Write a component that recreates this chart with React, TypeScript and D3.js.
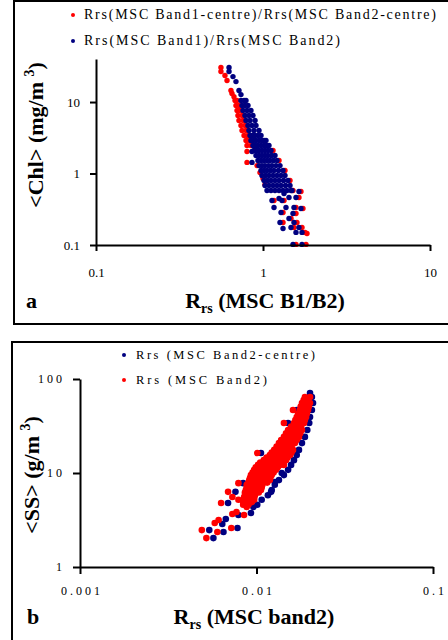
import React, { useEffect, useRef } from 'react';
import * as d3 from 'd3';

const svgWidth = 448;
const svgHeight = 640;
const serif = '"Liberation Serif", "Times New Roman", serif';
const red = '#ff0000';
const navy = '#000080';

// panel a: reflectance ratio vs <Chl>
const ratioTicks = [0.1, 1, 10];
const chlTicks = [0.1, 1, 10];
const ratioLegend = ['Rrs(MSC Band1-centre)/Rrs(MSC Band2-centre)', 'Rrs(MSC Band1)/Rrs(MSC Band2)'];

// red: Band1-centre / Band2-centre  [ratio, chl]
const ratioCentre: [number, number][] = [
  [0.56, 30.4], [0.56, 26.7], [0.592, 23.5], [0.609, 20.0], [0.643, 14.5], [0.652, 13.2],
  [0.67, 11.9], [0.68, 10.5], [0.699, 10.5], [0.689, 8.93], [0.718, 8.93], [0.699, 7.6], [0.728, 7.6],
  [0.708, 6.47], [0.749, 6.47], [0.718, 5.51], [0.759, 5.51], [0.738, 4.69], [0.78, 4.69],
  [0.749, 3.99], [0.791, 3.99], [0.77, 3.4], [0.813, 3.4], [0.791, 2.89], [0.824, 2.89],
  [0.802, 2.46], [0.847, 2.46], [0.813, 3.09], [0.802, 2.03], [0.802, 1.43],
  [1.148, 2.1], [1.247, 1.52], [1.354, 1.1], [1.451, 0.798], [1.512, 0.578],
  [0.921, 1.29], [0.959, 1.03], [1.0, 0.85], [1.028, 0.7],
  [1.164, 0.42], [1.336, 0.42], [1.318, 0.285], [1.576, 0.276], [1.735, 0.324], [1.576, 0.335],
  [1.318, 0.206], [1.471, 0.235], [1.597, 0.206], [1.533, 0.176], [1.712, 0.176], [1.784, 0.15],
  [1.834, 0.145], [1.809, 0.102], [1.576, 0.102], [1.688, 0.56], [1.642, 0.462],
];

// blue: Band1 / Band2  [ratio, chl]
const ratioFull: [number, number][] = [
  [0.626, 30.4], [0.626, 26.7], [0.661, 22.7], [0.689, 19.3], [0.718, 14.5], [0.738, 12.7],
  [0.738, 10.5], [0.77, 10.5], [0.791, 10.5],
  [0.749, 8.93], [0.78, 8.93], [0.813, 8.93],
  [0.759, 7.6], [0.802, 7.6], [0.847, 7.6],
  [0.78, 6.47], [0.824, 6.47], [0.871, 6.47],
  [0.791, 5.51], [0.836, 5.51], [0.896, 5.51],
  [0.813, 4.69], [0.859, 4.69], [0.908, 4.69],
  [0.824, 3.99], [0.883, 3.99], [0.946, 3.99],
  [0.836, 3.4], [0.866, 3.4], [0.896, 3.4], [0.935, 3.4], [0.973, 3.4],
  [0.847, 2.89], [0.877, 2.89], [0.908, 2.89], [0.947, 2.89], [0.986, 2.89], [1.014, 2.89], [1.042, 2.89],
  [0.871, 2.46], [0.9, 2.46], [0.933, 2.46], [0.973, 2.46], [1.014, 2.46], [1.05, 2.46], [1.086, 2.46],
  [0.883, 2.1], [0.914, 2.1], [0.946, 2.1], [0.986, 2.1], [1.028, 2.1], [1.071, 2.1], [1.117, 2.1],
  [0.908, 1.79], [0.946, 1.79], [0.986, 1.79], [1.028, 1.79], [1.071, 1.79], [1.124, 1.79], [1.18, 1.79],
  [0.933, 1.52], [0.973, 1.52], [1.014, 1.52], [1.057, 1.52], [1.101, 1.52], [1.156, 1.52], [1.213, 1.52],
  [0.946, 1.29], [0.986, 1.29], [1.028, 1.29], [1.079, 1.29], [1.132, 1.29], [1.196, 1.29], [1.264, 1.29],
  [0.973, 1.1], [1.014, 1.1], [1.057, 1.1], [1.109, 1.1], [1.164, 1.1], [1.238, 1.1], [1.318, 1.1],
  [0.986, 0.938], [1.035, 0.938], [1.086, 0.938], [1.148, 0.938], [1.213, 0.938], [1.282, 0.938], [1.354, 0.938],
  [1.014, 0.798], [1.064, 0.798], [1.117, 0.798], [1.18, 0.798], [1.247, 0.798], [1.327, 0.798], [1.411, 0.798],
  [1.028, 0.68], [1.086, 0.68], [1.148, 0.68], [1.213, 0.68], [1.282, 0.68], [1.364, 0.68], [1.451, 0.68],
  [1.057, 0.578], [1.117, 0.578], [1.18, 0.578], [1.247, 0.578], [1.318, 0.578], [1.392, 0.578], [1.471, 0.578],
  [0.859, 1.43], [0.859, 2.03],
  [1.132, 0.42], [1.3, 0.42], [1.164, 0.335], [1.282, 0.285], [1.373, 0.335], [1.533, 0.335],
  [1.688, 0.324], [1.512, 0.276], [1.264, 0.206], [1.431, 0.235], [1.533, 0.206], [1.471, 0.176],
  [1.318, 0.17], [1.642, 0.176], [1.712, 0.15], [1.576, 0.15], [1.512, 0.102], [1.712, 0.102],
  [1.491, 0.578], [1.642, 0.56], [1.576, 0.462], [1.431, 0.462], [1.336, 0.525], [1.247, 0.447],
];

// panel b: Rrs band2 vs <SS>
const rrsTicks = [0.001, 0.01, 0.1];
const ssTicks = [1, 10, 100];
const rrsLegend = ['Rrs (MSC Band2-centre)', 'Rrs (MSC Band2)'];

// blue: Band2-centre  [rrs, ss]
const band2Centre: [number, number][] = [
  [0.0201, 71], [0.0206, 64.4], [0.0209, 55.6], [0.0206, 46.8], [0.0201, 39.4], [0.0199, 34.0],
  [0.0194, 28.7], [0.0188, 24.2], [0.0181, 20.8], [0.0174, 17.6], [0.0169, 15.5], [0.0163, 13.7],
  [0.0157, 12.2], [0.0151, 10.8], [0.0143, 9.5], [0.0134, 8.4], [0.0127, 7.5], [0.0122, 6.6],
  [0.0116, 5.8], [0.0107, 5.2], [0.0101, 4.6],
  [0.0169, 46.8], [0.0151, 34.0], [0.0106, 16.3], [0.0084, 7.8], [0.0076, 6.3], [0.0069, 4.8],
  [0.0067, 3.24], [0.0064, 2.87], [0.0054, 2.47], [0.0065, 2.36], [0.0057, 2.03], [0.0078, 2.6],
  [0.0093, 3.75], [0.0079, 3.57], [0.0096, 4.35], [0.0086, 4.8], [0.0121, 6.3], [0.0127, 8.0],
  [0.0139, 10.0],
];

// red: Band2  [rrs, ss]
const band2: [number, number][] = [
  [0.0188, 64.4], [0.0201, 64.4],
  [0.0185, 59.8], [0.0196, 59.8],
  [0.0181, 55.6], [0.0191, 55.6], [0.0201, 55.6],
  [0.0178, 51], [0.0188, 51], [0.0198, 51],
  [0.0176, 46.8], [0.0186, 46.8], [0.0196, 46.8],
  [0.0172, 42.9], [0.0183, 42.9], [0.0193, 42.9],
  [0.0169, 39.4], [0.0181, 39.4], [0.0191, 39.4],
  [0.0166, 36.6], [0.0177, 36.6], [0.0188, 36.6],
  [0.0163, 34.0], [0.0174, 34.0], [0.0186, 34.0],
  [0.0157, 31.2], [0.0168, 31.2], [0.0179, 31.2],
  [0.0151, 28.7], [0.0161, 28.7], [0.0172, 28.7], [0.0181, 28.7],
  [0.0147, 26.4], [0.0157, 26.4], [0.0167, 26.4], [0.0177, 26.4],
  [0.0143, 24.2], [0.0153, 24.2], [0.0163, 24.2], [0.0174, 24.2],
  [0.0138, 22.4], [0.0148, 22.4], [0.0158, 22.4], [0.0169, 22.4],
  [0.0134, 20.8], [0.0143, 20.8], [0.0153, 20.8], [0.0165, 20.8],
  [0.013, 19.1], [0.0138, 19.1], [0.0148, 19.1], [0.0158, 19.1],
  [0.0126, 17.6], [0.0134, 17.6], [0.0143, 17.6], [0.0153, 17.6], [0.0161, 17.6],
  [0.0122, 16.5], [0.013, 16.5], [0.014, 16.5], [0.015, 16.5], [0.0158, 16.5],
  [0.0119, 15.5], [0.0127, 15.5], [0.0136, 15.5], [0.0145, 15.5], [0.0155, 15.5],
  [0.0114, 14.6], [0.0122, 14.6], [0.0131, 14.6], [0.014, 14.6], [0.015, 14.6],
  [0.011, 13.7], [0.0117, 13.7], [0.0126, 13.7], [0.0134, 13.7], [0.0147, 13.7],
  [0.0105, 12.9], [0.0112, 12.9], [0.0121, 12.9], [0.013, 12.9], [0.014, 12.9],
  [0.0102, 12.2], [0.0108, 12.2], [0.0116, 12.2], [0.0126, 12.2], [0.0136, 12.2], [0.0143, 12.2],
  [0.0099, 11.5], [0.0105, 11.5], [0.0113, 11.5], [0.0122, 11.5], [0.0132, 11.5],
  [0.0097, 10.8], [0.0103, 10.8], [0.011, 10.8], [0.0119, 10.8], [0.0129, 10.8],
  [0.0095, 10.1], [0.0101, 10.1], [0.0108, 10.1], [0.0116, 10.1], [0.0125, 10.1],
  [0.0093, 9.5], [0.0099, 9.5], [0.0106, 9.5], [0.0113, 9.5], [0.0122, 9.5],
  [0.0092, 8.9], [0.0098, 8.9], [0.0104, 8.9], [0.0112, 8.9], [0.012, 8.9],
  [0.0091, 8.4], [0.0097, 8.4], [0.0103, 8.4], [0.0111, 8.4], [0.0119, 8.4],
  [0.009, 7.9], [0.0095, 7.9], [0.0102, 7.9], [0.0109, 7.9], [0.0115, 7.9],
  [0.0088, 7.5], [0.0094, 7.5], [0.0101, 7.5], [0.0108, 7.5],
  [0.0088, 7.0], [0.0093, 7.0], [0.01, 7.0], [0.0107, 7.0],
  [0.0087, 6.6], [0.0093, 6.6], [0.0099, 6.6], [0.0106, 6.6],
  [0.0086, 6.2], [0.0092, 6.2], [0.0098, 6.2], [0.0103, 6.2],
  [0.0086, 5.8], [0.0092, 5.8], [0.0098, 5.8],
  [0.0085, 5.5], [0.0091, 5.5], [0.0097, 5.5],
  [0.0085, 5.2], [0.0091, 5.2], [0.0097, 5.2],
  [0.0084, 4.9], [0.0089, 4.9], [0.0094, 4.9],
  [0.0084, 4.6], [0.009, 4.6],
  [0.0161, 46.8], [0.0143, 34.0], [0.0101, 16.3], [0.0079, 7.8], [0.0069, 6.3], [0.0063, 4.8],
  [0.0073, 3.66], [0.0061, 3.16], [0.0058, 2.94], [0.0049, 2.47], [0.006, 2.36], [0.0052, 2.03],
  [0.0072, 2.6], [0.0077, 3.85], [0.0085, 3.57], [0.0088, 4.35], [0.0073, 5.55], [0.0079, 5.2],
];

const fmt = (d: d3.NumberValue) => String(+d);

function drawAxes(g, x, y, xTicks, yTicks, o) {
  const [x0] = x.range();
  const [y0] = y.range();

  const xa = g.append('g')
    .attr('transform', `translate(0,${y0})`)
    .call(d3.axisBottom(x).tickValues(xTicks).tickFormat(fmt).tickSize(o.tick).tickSizeOuter(0));
  xa.attr('font-family', serif).attr('font-size', o.font);
  xa.selectAll('text').attr('y', o.xLabelY).attr('dy', null)
    .style('letter-spacing', o.spacing + 'px').attr('dx', o.spacing / 2);

  const ya = g.append('g')
    .attr('transform', `translate(${x0},0)`)
    .call(d3.axisLeft(y).tickValues(yTicks).tickFormat(fmt).tickSize(o.tick).tickSizeOuter(0));
  ya.attr('font-family', serif).attr('font-size', o.font);
  ya.selectAll('text').attr('x', -o.yLabelGap).attr('dy', '0.32em')
    .style('letter-spacing', o.spacing + 'px').attr('dx', o.spacing);

  g.selectAll('.domain').attr('stroke-width', 2);
  g.selectAll('.tick line').attr('stroke-width', 2);
}

function drawTitles(g, o) {
  const xt = g.append('text')
    .attr('x', o.xTitle[0]).attr('y', o.xTitle[1])
    .attr('text-anchor', 'middle')
    .attr('font-family', serif).attr('font-weight', 'bold').attr('font-size', 22);
  xt.append('tspan').text('R');
  xt.append('tspan').attr('font-size', 14).attr('dy', 5).text('rs');
  xt.append('tspan').attr('dy', -5).text(' ' + o.xLabel);

  const yt = g.append('text')
    .attr('transform', `translate(${o.yTitle[0]},${o.yTitle[1]}) rotate(-90)`)
    .attr('text-anchor', 'middle')
    .attr('font-family', serif).attr('font-weight', 'bold').attr('font-size', 22);
  yt.append('tspan').text(o.yLabel);
  yt.append('tspan').attr('font-size', 14).attr('dy', -9).text('3');
  yt.append('tspan').attr('dy', 9).text(')');

  g.append('text')
    .attr('x', o.letter[0]).attr('y', o.letter[1])
    .attr('font-family', serif).attr('font-weight', 'bold').attr('font-size', 22)
    .text(o.letterText);
}

function drawLegend(g, items, o) {
  items.forEach((it, i) => {
    const yy = o.y + i * o.step;
    g.append('circle').attr('cx', o.x).attr('cy', yy - 4).attr('r', 2).attr('fill', it.color);
    g.append('text')
      .attr('x', o.x + o.gap).attr('y', yy)
      .attr('font-family', serif).attr('font-size', o.font)
      .attr('textLength', it.len).attr('lengthAdjust', 'spacing')
      .text(it.label);
  });
}

const ScatterPanels = () => {
  const ref = useRef<SVGSVGElement>(null);

  useEffect(() => {
    if (!ref.current) return;
    const svg = d3.select(ref.current);
    svg.selectAll('*').remove();

    svg.append('rect').attr('width', svgWidth).attr('height', svgHeight).attr('fill', '#fff');

    // frames
    svg.append('rect').attr('x', 14).attr('y', 1).attr('width', 450).attr('height', 323)
      .attr('fill', 'none').attr('stroke', '#000').attr('stroke-width', 2);
    svg.append('rect').attr('x', 12).attr('y', 342).attr('width', 450).attr('height', 320)
      .attr('fill', 'none').attr('stroke', '#000').attr('stroke-width', 2);

    // ---- panel a
    const ga = svg.append('g');
    const xa = d3.scaleLog().domain([0.1, 10]).range([96, 430]);
    const ya = d3.scaleLog().domain([0.1, 40]).range([245, 59]);

    ga.append('g').selectAll('circle').data(ratioCentre).join('circle')
      .attr('cx', d => xa(d[0])).attr('cy', d => ya(d[1])).attr('r', 2.7).attr('fill', red);
    ga.append('g').selectAll('circle').data(ratioFull).join('circle')
      .attr('cx', d => xa(d[0])).attr('cy', d => ya(d[1])).attr('r', 2.7).attr('fill', navy);

    drawAxes(ga, xa, ya, ratioTicks, chlTicks, { tick: 6, font: 13, spacing: 0, xLabelY: 32, yLabelGap: 16 });
    drawTitles(ga, {
      xTitle: [265, 308], xLabel: '(MSC B1/B2)',
      yTitle: [43, 135], yLabel: '<Chl> (mg/m ',
      letter: [26, 308], letterText: 'a',
    });
    drawLegend(ga, [
      { label: ratioLegend[0], color: red, len: 352 },
      { label: ratioLegend[1], color: navy, len: 256 },
    ], { x: 73, y: 19, step: 26, gap: 11, font: 14 });

    // ---- panel b
    const gb = svg.append('g');
    const xb = d3.scaleLog().domain([0.001, 0.1]).range([80, 433]);
    const yb = d3.scaleLog().domain([1, 100]).range([567, 379]);

    gb.append('g').selectAll('circle').data(band2Centre).join('circle')
      .attr('cx', d => xb(d[0])).attr('cy', d => yb(d[1])).attr('r', 3.3).attr('fill', navy);
    gb.append('g').selectAll('circle').data(band2).join('circle')
      .attr('cx', d => xb(d[0])).attr('cy', d => yb(d[1])).attr('r', 3.3).attr('fill', red);

    drawAxes(gb, xb, yb, rrsTicks, ssTicks, { tick: 7, font: 12, spacing: 3, xLabelY: 28, yLabelGap: 18 });
    drawTitles(gb, {
      xTitle: [254, 624], xLabel: '(MSC band2)',
      yTitle: [39, 475], yLabel: '<SS> (g/m ',
      letter: [27, 624], letterText: 'b',
    });
    drawLegend(gb, [
      { label: rrsLegend[0], color: navy, len: 179 },
      { label: rrsLegend[1], color: red, len: 131 },
    ], { x: 124, y: 359, step: 25, gap: 12, font: 12.5 });
  }, []);

  return <svg ref={ref} width={svgWidth} height={svgHeight}
    style={{ position: 'absolute', left: 0, top: 0, display: 'block' }} />;
};

export default function App() {
  return <ScatterPanels />;
}
